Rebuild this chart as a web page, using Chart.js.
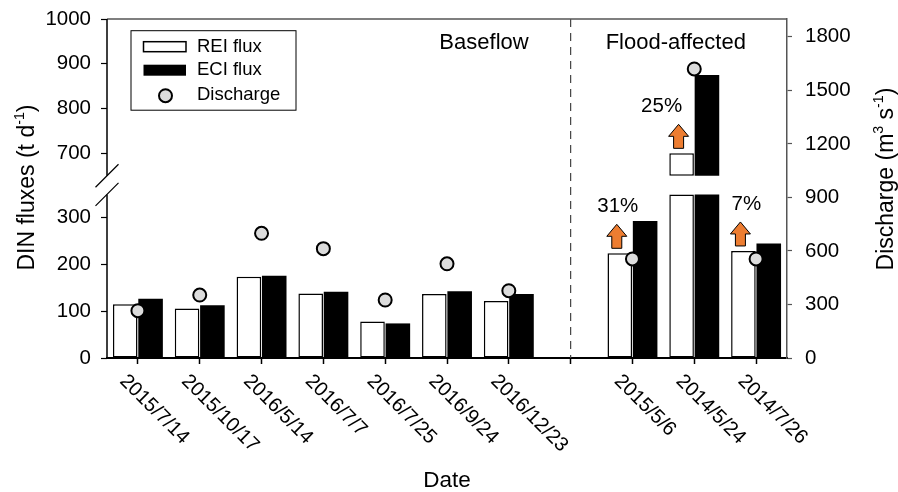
<!DOCTYPE html>
<html>
<head>
<meta charset="utf-8">
<script src="https://cdn.jsdelivr.net/npm/chart.js@4.4.1/dist/chart.umd.min.js"></script>
<style>
  html, body { margin: 0; padding: 0; background: #fff; }
</style>
</head>
<body>
<canvas id="dinChart" width="898" height="492"></canvas>
<script>
// Data
const dates = ['2015/7/14', '2015/10/17', '2016/5/14', '2016/7/7', '2016/7/25', '2016/9/24', '2016/12/23', '', '2015/5/6', '2014/5/24', '2014/7/26'];
const reiFlux = [115, 106, 174, 138, 78, 137, 122, null, 224, 700, 229];
const eciFlux = [127, 113, 176, 142, 74, 143, 137, null, 293, 875, 245];
const discharge = [265, 353, 699, 613, 325, 528, 377, null, 555, 1620, 555];
const fluxTicks = [0, 100, 200, 300, 700, 800, 900, 1000];
const dischargeTicks = [0, 300, 600, 900, 1200, 1500, 1800];
const increaseIdx = [8, 9, 10];
const increaseText = ['31%', '25%', '7%'];

// Broken left axis: 0-350 below the break, 650-1000 above it
const breakLow = 350, breakHigh = 650, fluxMax = 1000;
const gapUnits = 40, upperScale = 0.958;
const toAxis = v => v == null ? null : (v <= breakLow ? v : breakLow + gapUnits + (v - breakHigh) * upperScale);
const axisMax = toAxis(fluxMax);

const lowPart = arr => arr.map(v => v == null ? null : Math.min(v, breakLow));
const gapPart = arr => arr.map(v => v != null && v > breakHigh ? gapUnits : null);
const highPart = arr => arr.map(v => v != null && v > breakHigh ? toAxis(v) - breakLow - gapUnits : null);

const FONT = '"Liberation Sans", Arial, sans-serif';
Chart.defaults.font.family = FONT;
Chart.defaults.color = '#000';

const reiStyle = { backgroundColor: '#fff', borderColor: '#000', borderWidth: 1.5, borderSkipped: false };
const eciStyle = { backgroundColor: '#000', borderColor: '#000', borderWidth: 0, borderSkipped: false };
const gapStyle = { backgroundColor: 'rgba(0,0,0,0)', borderWidth: 0 };

function richWidth(ctx, parts, size) {
    let w = 0;
    parts.forEach(p => {
        ctx.font = (p.sup ? size * 0.62 : size) + 'px ' + FONT;
        w += ctx.measureText(p.t).width;
    });
    return w;
}

function drawRich(ctx, parts, size, x, y, angle) {
    ctx.save();
    ctx.translate(x, y);
    ctx.rotate(angle);
    ctx.textBaseline = 'alphabetic';
    ctx.textAlign = 'left';
    let cx = -richWidth(ctx, parts, size) / 2;
    parts.forEach(p => {
        ctx.font = (p.sup ? size * 0.62 : size) + 'px ' + FONT;
        ctx.fillText(p.t, cx, p.sup ? -size * 0.42 : 0);
        cx += ctx.measureText(p.t).width;
    });
    ctx.restore();
}

function drawArrow(ctx, cx, bottom) {
    const w = 20, h = 24, headH = 12, shaftW = 10, top = bottom - h;
    ctx.beginPath();
    ctx.moveTo(cx - shaftW / 2, bottom);
    ctx.lineTo(cx - shaftW / 2, top + headH);
    ctx.lineTo(cx - w / 2, top + headH);
    ctx.lineTo(cx, top);
    ctx.lineTo(cx + w / 2, top + headH);
    ctx.lineTo(cx + shaftW / 2, top + headH);
    ctx.lineTo(cx + shaftW / 2, bottom);
    ctx.closePath();
    ctx.fillStyle = '#ED7D31';
    ctx.fill();
    ctx.strokeStyle = '#000';
    ctx.lineWidth = 1;
    ctx.stroke();
}

const decor = {
    id: 'decor',
    beforeDatasetsDraw(chart) {
        const { ctx, chartArea: a, scales: { x } } = chart;
        // dashed separator between baseflow and flood-affected
        const dx = x.getPixelForTick(7);
        ctx.save();
        ctx.strokeStyle = '#444';
        ctx.lineWidth = 1.2;
        ctx.setLineDash([8, 6]);
        ctx.beginPath();
        ctx.moveTo(dx, a.top);
        ctx.lineTo(dx, a.bottom);
        ctx.stroke();
        ctx.restore();
    },
    afterDraw(chart) {
        const { ctx, chartArea: a, scales: { x, y } } = chart;
        ctx.save();

        // top frame line
        ctx.strokeStyle = '#555';
        ctx.lineWidth = 1.5;
        ctx.beginPath();
        ctx.moveTo(a.left, a.top);
        ctx.lineTo(a.right, a.top);
        ctx.stroke();

        // broken left axis
        const yUp = y.getPixelForValue(breakLow + gapUnits);
        const yLow = y.getPixelForValue(breakLow);
        ctx.strokeStyle = '#000';
        ctx.lineWidth = 1.5;
        ctx.beginPath();
        ctx.moveTo(a.left, a.top);
        ctx.lineTo(a.left, yUp);
        ctx.moveTo(a.left, yLow);
        ctx.lineTo(a.left, a.bottom);
        ctx.stroke();
        ctx.lineWidth = 1.2;
        ctx.beginPath();
        [yUp, yLow].forEach(py => {
            ctx.moveTo(a.left - 11.5, py + 11.5);
            ctx.lineTo(a.left + 11.5, py - 11.5);
        });
        ctx.stroke();

        // rotated date labels
        ctx.fillStyle = '#000';
        ctx.font = '20px ' + FONT;
        ctx.textAlign = 'left';
        ctx.textBaseline = 'middle';
        dates.forEach((d, i) => {
            if (!d) return;
            ctx.save();
            ctx.translate(x.getPixelForTick(i) - 15, a.bottom + 20);
            ctx.rotate(Math.PI / 4);
            ctx.fillText(d, 0, 0);
            ctx.restore();
        });

        // axis titles
        drawRich(ctx, [{ t: 'Date' }], 22.5, (a.left + a.right) / 2, 487, 0);
        drawRich(ctx, [{ t: 'DIN fluxes (t d' }, { t: '-1', sup: true }, { t: ')' }], 23, 34, 187.5, -Math.PI / 2);
        drawRich(ctx, [{ t: 'Discharge (m' }, { t: '3', sup: true }, { t: ' s' }, { t: '-1', sup: true }, { t: ')' }], 23, 893, 179, -Math.PI / 2);

        // region labels
        const sep = x.getPixelForTick(7);
        ctx.font = '22px ' + FONT;
        ctx.textBaseline = 'alphabetic';
        ctx.textAlign = 'right';
        ctx.fillText('Baseflow', sep - 42, a.top + 29.5);
        ctx.textAlign = 'left';
        ctx.fillText('Flood-affected', sep + 35, a.top + 29.5);

        // increase arrows and labels
        const reiMeta = chart.getDatasetMeta(1);
        const labelShift = [1, -17, 6];
        ctx.font = '20.5px ' + FONT;
        ctx.textAlign = 'center';
        ctx.textBaseline = 'middle';
        increaseIdx.forEach((idx, k) => {
            const cx = reiMeta.data[idx].x - 3;
            const topY = y.getPixelForValue(toAxis(reiFlux[idx]));
            const bottom = topY - 5;
            drawArrow(ctx, cx, bottom);
            ctx.fillStyle = '#000';
            ctx.fillText(increaseText[k], cx + labelShift[k], bottom - 24 - 17.5);
        });

        // legend
        const lx = a.left + 24, ly = a.top + 11.7;
        ctx.strokeStyle = '#000';
        ctx.lineWidth = 1;
        ctx.strokeRect(lx, ly, 165, 79.5);
        ctx.fillStyle = reiStyle.backgroundColor;
        ctx.fillRect(lx + 12.5, ly + 11, 42.5, 10);
        ctx.lineWidth = 1.5;
        ctx.strokeRect(lx + 12.5, ly + 11, 42.5, 10);
        ctx.fillStyle = eciStyle.backgroundColor;
        ctx.fillRect(lx + 12.5, ly + 34, 42.5, 11);
        ctx.beginPath();
        ctx.arc(lx + 34.5, ly + 65, 6.5, 0, Math.PI * 2);
        ctx.fillStyle = '#dcdcdc';
        ctx.fill();
        ctx.lineWidth = 2;
        ctx.stroke();
        ctx.fillStyle = '#000';
        ctx.font = '18.5px ' + FONT;
        ctx.textAlign = 'left';
        ctx.textBaseline = 'middle';
        ctx.fillText('REI flux', lx + 66, ly + 16);
        ctx.fillText('ECI flux', lx + 66, ly + 39.5);
        ctx.fillText('Discharge', lx + 66, ly + 64.5);

        ctx.restore();
    }
};

new Chart(document.getElementById('dinChart'), {
    type: 'bar',
    data: {
        labels: dates,
        datasets: [
            {
                type: 'line', label: 'Discharge', data: discharge, yAxisID: 'y2', showLine: false,
                pointRadius: 6.5, pointBackgroundColor: '#dcdcdc', pointBorderColor: '#000', pointBorderWidth: 2, order: -1
            },
            { label: 'REI flux', data: lowPart(reiFlux), stack: 'rei', ...reiStyle },
            { label: 'REI gap', data: gapPart(reiFlux), stack: 'rei', ...gapStyle },
            { label: 'REI upper', data: highPart(reiFlux), stack: 'rei', ...reiStyle },
            { label: 'ECI flux', data: lowPart(eciFlux), stack: 'eci', ...eciStyle },
            { label: 'ECI gap', data: gapPart(eciFlux), stack: 'eci', ...gapStyle },
            { label: 'ECI upper', data: highPart(eciFlux), stack: 'eci', ...eciStyle }
        ]
    },
    options: {
        responsive: false,
        animation: false,
        categoryPercentage: 0.82,
        barPercentage: 0.97,
        layout: { padding: { top: 19, left: 0, right: 0, bottom: 0 } },
        plugins: { legend: { display: false }, tooltip: { enabled: false } },
        scales: {
            x: {
                stacked: true,
                offset: true,
                ticks: { display: false },
                grid: { drawOnChartArea: false, drawTicks: true, tickLength: 6, tickWidth: 1.5, tickColor: '#000', offset: false },
                border: { display: true, color: '#000', width: 2 },
                afterFit: s => { s.height = 134; s.paddingLeft = 0; s.paddingRight = 0; }
            },
            y: {
                stacked: true,
                position: 'left',
                min: 0,
                max: axisMax,
                afterBuildTicks: s => { s.ticks = fluxTicks.map(v => ({ value: toAxis(v) })); },
                ticks: { callback: (v, i) => fluxTicks[i], padding: 10, font: { size: 20.5 }, color: '#000' },
                grid: { drawOnChartArea: false, tickLength: 6, tickWidth: 1.2, tickColor: '#000' },
                border: { display: false },
                afterFit: s => { s.width = 107; s.paddingTop = 0; s.paddingBottom = 0; }
            },
            y2: {
                stacked: false,
                position: 'right',
                min: 0,
                max: 1900,
                afterBuildTicks: s => { s.ticks = dischargeTicks.map(v => ({ value: v })); },
                ticks: { callback: v => String(v), padding: 13, font: { size: 20.5 }, color: '#000' },
                grid: { drawOnChartArea: false, tickLength: 5, tickWidth: 1.2, tickColor: '#555' },
                border: { display: true, color: '#555', width: 1.5 },
                afterFit: s => { s.width = 111; s.paddingTop = 0; s.paddingBottom = 0; }
            }
        }
    },
    plugins: [decor]
});
</script>
</body>
</html>
